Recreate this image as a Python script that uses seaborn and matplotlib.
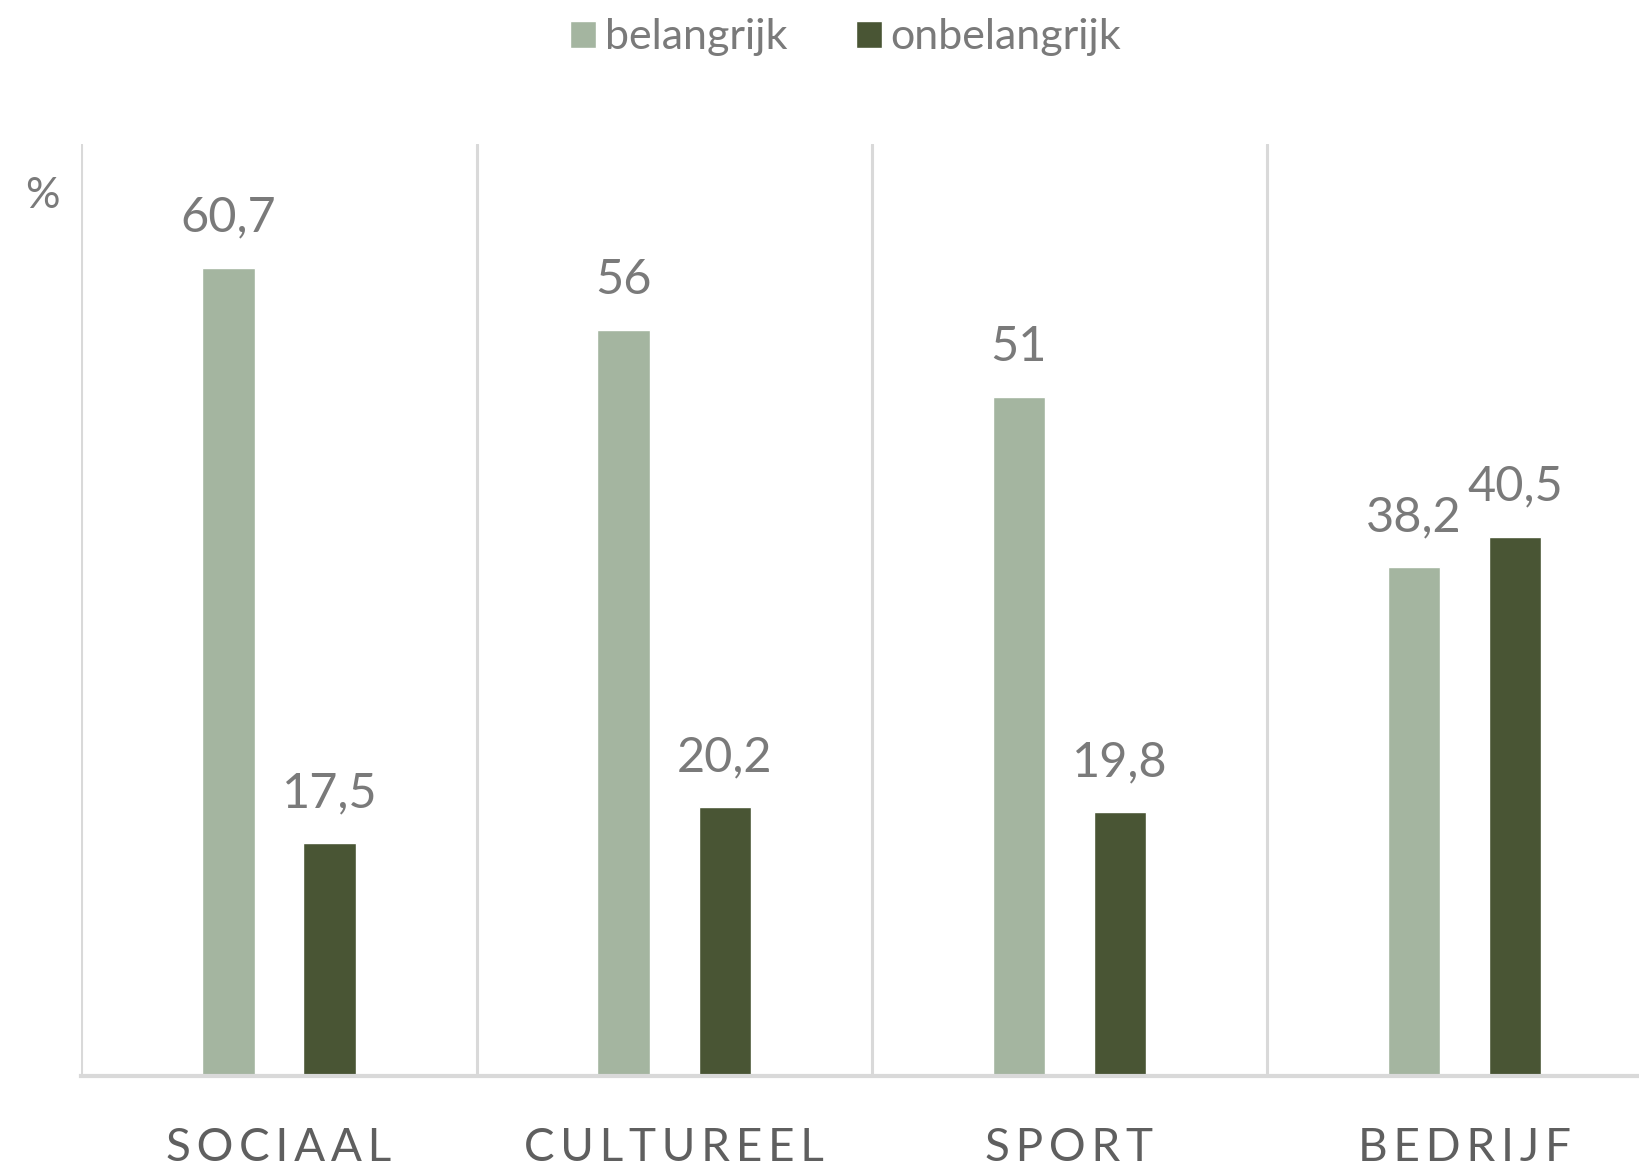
import matplotlib
matplotlib.use("Agg")
import matplotlib.pyplot as plt
import seaborn as sns
import pandas as pd

categories = ["SOCIAAL", "CULTUREEL", "SPORT", "BEDRIJF"]
series = ["belangrijk", "onbelangrijk"]
belangrijk = [60.7, 56, 51, 38.2]
onbelangrijk = [17.5, 20.2, 19.8, 40.5]
value_labels = [["60,7", "56", "51", "38,2"], ["17,5", "20,2", "19,8", "40,5"]]

light = "#a2b99c"
dark = "#4b5a2e"
grid_col = "#d9d9d9"
text_col = "#7a7a7a"

df = pd.DataFrame({
    "cat": categories * 2,
    "serie": [series[0]] * 4 + [series[1]] * 4,
    "val": belangrijk + onbelangrijk,
})

sns.set_style("white")
plt.rcParams["font.family"] = ["Lato", "DejaVu Sans"]

fig = plt.figure(figsize=(16.39, 11.69), dpi=100)
ax = fig.add_axes([0.0497, 0.0796, 0.9503, 0.7974])

sns.barplot(data=df, x="cat", y="val", hue="serie", order=categories,
            hue_order=series, palette=[light, dark], width=0.512, gap=0.484,
            ax=ax, legend=True)

for cont, labs in zip(ax.containers, value_labels):
    ax.bar_label(cont, labels=labs, padding=20, fontsize=35, color=text_col)

ax.set_ylim(0, 70)
ax.set_xlim(-0.5, 3.442)
ax.set_yticks([])
ax.set_xlabel("")
ax.set_ylabel("")

# category separators
for xv in [-0.5, 0.5, 1.5, 2.5]:
    ax.axvline(xv, color=grid_col, lw=2.2, zorder=0)

for s in ["top", "right", "left"]:
    ax.spines[s].set_visible(False)
ax.spines["bottom"].set_color(grid_col)
ax.spines["bottom"].set_linewidth(3)

spaced = ["\u2009".join(c) for c in categories]
ax.set_xticks(range(4))
ax.set_xticklabels(spaced, fontsize=33, color="#5f5f5f")
ax.tick_params(axis="x", length=0, pad=37)

fig.text(0.026, 0.832, "%", fontsize=31, color=text_col, ha="center", va="center")

handles, labels = ax.get_legend_handles_labels()
ax.legend(handles, labels, loc="center", bbox_to_anchor=(0.516, 0.968),
          bbox_transform=fig.transFigure, ncol=2, frameon=False,
          fontsize=31, labelcolor=text_col, handlelength=0.6, handleheight=0.6,
          handletextpad=0.2, columnspacing=1.6)

fig.savefig("out.png", dpi=100)
